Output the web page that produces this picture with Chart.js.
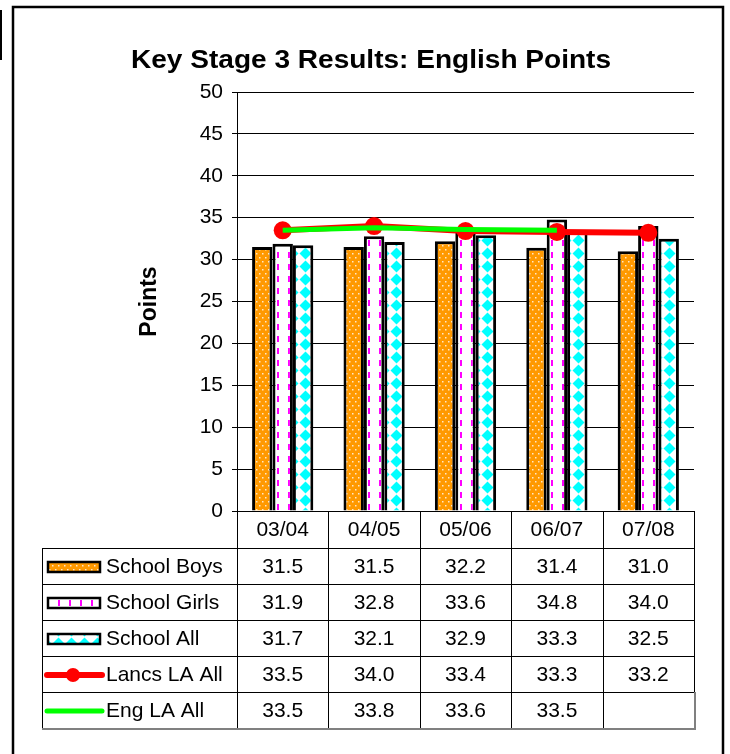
<!DOCTYPE html>
<html>
<head>
<meta charset="utf-8">
<script src="https://cdn.jsdelivr.net/npm/chart.js@4"></script>
<style>
html,body{margin:0;padding:0;background:#fff;}
#wrap{position:relative;width:730px;height:754px;}
canvas{display:block;}
</style>
</head>
<body>
<div id="wrap"><canvas id="c" width="730" height="754"></canvas></div>
<script>
const categories = ['03/04', '04/05', '05/06', '06/07', '07/08'];
const schoolBoys = [31.5, 31.5, 32.2, 31.4, 31.0];
const schoolGirls = [31.9, 32.8, 33.6, 34.8, 34.0];
const schoolAll = [31.7, 32.1, 32.9, 33.3, 32.5];
const lancsLA = [33.5, 34.0, 33.4, 33.3, 33.2];
const engLA = [33.5, 33.8, 33.6, 33.5, null];
const yTicks = [0, 5, 10, 15, 20, 25, 30, 35, 40, 45, 50];
const titleText = 'Key Stage 3 Results: English Points';
const yTitle = 'Points';

const FONT = 'Arial, "Liberation Sans", sans-serif';

function makePattern(kind) {
  const c = document.createElement('canvas');
  const g = c.getContext('2d');
  if (kind === 'dots') {
    c.width = 6; c.height = 8;
    g.fillStyle = '#FF9900'; g.fillRect(0, 0, 6, 8);
    g.fillStyle = '#FFE8C8';
    g.fillRect(1, 1, 1.5, 1.5);
    g.fillRect(4, 5, 1.5, 1.5);
  } else if (kind === 'dash') {
    c.width = 11; c.height = 12;
    g.fillStyle = '#FFFFFF'; g.fillRect(0, 0, 11, 12);
    g.fillStyle = '#FF00FF';
    g.fillRect(3, 0, 2, 6);
  } else {
    c.width = 13; c.height = 13;
    g.fillStyle = '#FFFFFF'; g.fillRect(0, 0, 13, 13);
    g.fillStyle = '#00FFFF';
    g.beginPath();
    g.moveTo(6.5, 0.5); g.lineTo(12.5, 6.5); g.lineTo(6.5, 12.5); g.lineTo(0.5, 6.5);
    g.closePath(); g.fill();
  }
  return document.createElement('canvas').getContext('2d').createPattern(c, 'repeat');
}

const pBoys = makePattern('dots');
const pGirls = makePattern('dash');
const pAll = makePattern('diamond');

function girlsFill(c) {
  if (c.type !== 'data' || !c.chart.scales || !c.chart.scales.x) return pGirls;
  const cx = c.chart.scales.x.getPixelForValue(c.dataIndex);
  const p = makePattern('dash');
  if (p.setTransform) p.setTransform(new DOMMatrix().translate(Math.round(cx - 9), 0));
  return p;
}

const rows = [
  {label: 'School Boys', data: schoolBoys, key: 'bar', fill: pBoys},
  {label: 'School Girls', data: schoolGirls, key: 'bar', fill: pGirls},
  {label: 'School All', data: schoolAll, key: 'bar', fill: pAll},
  {label: 'Lancs LA All', data: lancsLA, key: 'lineDot', color: '#FF0000'},
  {label: 'Eng LA All', data: engLA, key: 'line', color: '#00FF00'}
];

const tablePlugin = {
  id: 'tablePlugin',
  afterDraw(chart) {
    const ctx = chart.ctx;
    const x = chart.scales.x;
    const area = chart.chartArea;
    ctx.save();
    // frame
    ctx.strokeStyle = '#000';
    ctx.lineWidth = 2.5;
    ctx.beginPath();
    ctx.moveTo(13, 754); ctx.lineTo(13, 7); ctx.lineTo(723, 7); ctx.lineTo(723, 754);
    ctx.stroke();
    ctx.lineWidth = 2;
    ctx.beginPath();
    ctx.moveTo(1, 10); ctx.lineTo(1, 60);
    ctx.stroke();

    // title (stretched to the reference width)
    ctx.fillStyle = '#000';
    ctx.font = 'bold 26px ' + FONT;
    ctx.textAlign = 'center';
    ctx.textBaseline = 'middle';
    const tw = ctx.measureText(titleText).width;
    ctx.save();
    ctx.translate(371, 61);
    ctx.scale(480 / tw, 1);
    ctx.fillText(titleText, 0, 0);
    ctx.restore();

    // table
    const n = categories.length;
    const step = (area.right - area.left) / n;
    const bounds = [];
    for (let i = 0; i <= n; i++) bounds.push(area.left + step * i);
    const top = area.bottom;
    const headerBottom = top + 37;
    const rowH = 36;
    const tableBottom = headerBottom + rowH * rows.length;
    const leftX = 42;

    ctx.lineWidth = 1;
    ctx.strokeStyle = '#000';
    ctx.beginPath();
    for (let i = 0; i <= n; i++) {
      const bx = Math.round(bounds[i]) + 0.5;
      ctx.moveTo(bx, top); ctx.lineTo(bx, tableBottom);
    }
    ctx.moveTo(leftX + 0.5, headerBottom); ctx.lineTo(leftX + 0.5, tableBottom);
    for (let r = 0; r < rows.length; r++) {
      const y = Math.round(headerBottom + rowH * r) + 0.5;
      ctx.moveTo(leftX, y); ctx.lineTo(area.right, y);
    }
    ctx.stroke();
    ctx.strokeStyle = '#808080';
    ctx.lineWidth = 2;
    ctx.beginPath();
    ctx.moveTo(leftX, tableBottom + 1); ctx.lineTo(area.right + 1, tableBottom + 1);
    ctx.lineTo(area.right + 1, tableBottom - rowH);
    ctx.stroke();

    ctx.fillStyle = '#000';
    ctx.font = '21px ' + FONT;
    ctx.textAlign = 'center';
    ctx.textBaseline = 'middle';
    for (let i = 0; i < n; i++) {
      const cx = x.getPixelForValue(i);
      ctx.fillText(categories[i], cx, top + 19);
    }
    rows.forEach((row, r) => {
      const cy = headerBottom + rowH * r + rowH / 2 + 1;
      for (let i = 0; i < n; i++) {
        const v = row.data[i];
        if (v === null || v === undefined) continue;
        ctx.fillText(v.toFixed(1), x.getPixelForValue(i), cy);
      }
      // key
      if (row.key === 'bar') {
        ctx.fillStyle = row.fill;
        ctx.fillRect(47, cy - 6, 54, 12);
        ctx.strokeStyle = '#000';
        ctx.lineWidth = 2.5;
        ctx.strokeRect(48, cy - 5, 52, 10);
      } else {
        ctx.strokeStyle = row.color;
        ctx.lineWidth = row.key === 'lineDot' ? 6 : 5;
        ctx.lineCap = 'round';
        ctx.beginPath();
        ctx.moveTo(47, cy); ctx.lineTo(102, cy);
        ctx.stroke();
        if (row.key === 'lineDot') {
          ctx.fillStyle = row.color;
          ctx.beginPath();
          ctx.arc(73, cy, 7, 0, Math.PI * 2);
          ctx.fill();
        }
      }
      ctx.fillStyle = '#000';
      ctx.textAlign = 'left';
      ctx.fillText(row.label, 106, cy);
      ctx.textAlign = 'center';
    });
    ctx.restore();
  }
};

new Chart(document.getElementById('c'), {
  type: 'bar',
  data: {
    labels: categories,
    datasets: [
      {type: 'line', label: 'Eng LA All', data: engLA, borderColor: '#00FF00', backgroundColor: '#00FF00',
        borderWidth: 5, pointRadius: 0, order: 0, tension: 0},
      {type: 'line', label: 'Lancs LA All', data: lancsLA, borderColor: '#FF0000', backgroundColor: '#FF0000',
        borderWidth: 6, pointRadius: 9, pointBorderWidth: 0, order: 1, tension: 0},
      {label: 'School Boys', data: schoolBoys, backgroundColor: pBoys, borderColor: '#000', borderWidth: 3, order: 2,
        categoryPercentage: 0.67, barPercentage: 1.0},
      {label: 'School Girls', data: schoolGirls, backgroundColor: girlsFill, borderColor: '#000', borderWidth: 3, order: 2,
        categoryPercentage: 0.67, barPercentage: 1.0},
      {label: 'School All', data: schoolAll, backgroundColor: pAll, borderColor: '#000', borderWidth: 3, order: 2,
        categoryPercentage: 0.67, barPercentage: 1.0}
    ]
  },
  options: {
    responsive: false,
    animation: false,
    events: [],
    layout: {padding: {top: 92, left: 136, right: 36, bottom: 243}},
    plugins: {
      legend: {display: false},
      title: {display: false},
      tooltip: {enabled: false}
    },
    scales: {
      x: {display: false, offset: true},
      y: {
        min: 0, max: 50,
        afterFit(scale) { scale.width = 101; },
        afterBuildTicks(scale) { scale.ticks = yTicks.map(v => ({value: v})); },
        grid: {color: '#000', lineWidth: 1, tickLength: 5, drawTicks: true},
        border: {display: true, color: '#000', width: 1},
        ticks: {color: '#000', font: {size: 21, family: FONT}, padding: 9},
        title: {display: true, text: yTitle, color: '#000', font: {size: 23, weight: 'bold', family: FONT}, padding: {top: 0, bottom: 0}}
      }
    }
  },
  plugins: [tablePlugin]
});
</script>
</body>
</html>
